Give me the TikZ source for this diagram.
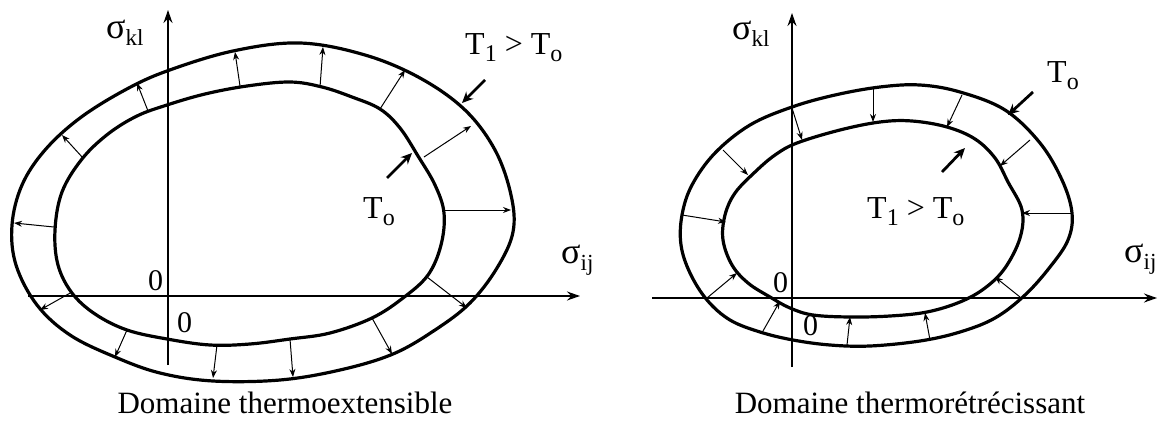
\documentclass[tikz,border=0pt]{standalone}
\usepackage{fontspec}
\setmainfont{Liberation Serif}
\usetikzlibrary{arrows.meta}
\newcommand{\sigl}[1]{{\fontsize{36}{36}\selectfont σ}\raisebox{-7pt}{\fontsize{23}{23}\selectfont #1}}
\newcommand{\tsub}[1]{\raisebox{-7pt}{\fontsize{24}{24}\selectfont #1}}
\begin{document}
\begin{tikzpicture}[x=1pt,y=-1pt,
  curve/.style={line width=3.2pt, line join=round},
  axis/.style={line width=1.3pt, -{Stealth[length=13pt,width=9pt]}},
  tharrow/.style={line width=1pt, -{Stealth[length=8pt,width=6pt]}},
  pointer/.style={line width=2.8pt, -{Stealth[length=11pt,width=10pt]}},
  lab/.style={anchor=base west, inner sep=0pt, font=\fontsize{32}{32}\selectfont},
  zero/.style={anchor=base west, inner sep=0pt, font=\fontsize{30}{30}\selectfont},
  captxt/.style={anchor=base, inner sep=0pt, font=\fontsize{31}{31}\selectfont}]
\useasboundingbox (0,0) rectangle (1166,420);

% ---------------- left diagram ----------------
\coordinate (LVb) at (168,365); \coordinate (LVt) at (168,10);
\coordinate (LHl) at (28,296);  \coordinate (LHr) at (580,296);
\draw[axis] (LVb) -- (LVt);
\draw[axis] (LHl) -- (LHr);

\draw[curve] plot[smooth cycle, tension=0.6] coordinates {
 (300,43) (365,55) (420,78) (465,110) (495,150) (511,195) (513,232)
 (497,268) (470,303) (435,330) (393,354) (340,370) (280,380) (213,381)
 (160,373) (115,357) (70,335) (37,305) (16,265) (12,225) (22,185) (45,150)
 (80,118) (125,90) (167,71) (233,51)};
\draw[curve] plot[smooth cycle, tension=0.6] coordinates {
 (167,105) (205,94) (247,86) (290,82) (322,87) (352,97) (380,109) (400,128)
 (418,156) (435,185) (444,213) (441,245) (428,275) (403,298) (372,318)
 (330,333) (290,339) (250,344) (210,345) (167,339) (127,330) (95,314)
 (72,293) (58,265) (55,230) (62,192) (82,159) (108,134) (137,116)};

\foreach \i/\xa/\ya/\xb/\yb in {
 1/54/227/14/223, 2/72/292/40/310, 3/127/330/115/357, 4/217/345/213/378,
 5/290/339/293/377, 6/372/318/392/354, 7/427/277/467/308, 8/444/210/511/210,
 9/424/157/471/126, 10/380/109/405/70, 11/320/87/323/47, 12/240/86/235/52,
 13/148/111/137/83, 14/83/158/62/135}{
  \coordinate (la\i) at (\xa,\ya); \coordinate (lb\i) at (\xb,\yb);
  \draw[tharrow] (la\i) -- (lb\i);
}

\coordinate (LP1s) at (485,80);  \coordinate (LP1e) at (462,103);
\coordinate (LP2s) at (387,178); \coordinate (LP2e) at (412,153);
\draw[pointer] (LP1s) -- (LP1e);
\draw[pointer] (LP2s) -- (LP2e);

\node[lab] (Lskl) at (106,38) {\sigl{kl}};
\node[lab] (Lsij) at (561,263) {\sigl{ij}};
\node[lab] (LT1) at (465,55) {T\tsub{1} > T\tsub{o}};
\node[lab] (LT0) at (363,218) {T\tsub{o}};
\node[zero] (L01) at (148,290) {0};
\node[zero] (L02) at (177,332) {0};
\node[captxt] (Lcap) at (285,413) {Domaine thermoextensible};

% ---------------- right diagram ----------------
\coordinate (RVb) at (792,367); \coordinate (RVt) at (792,13);
\coordinate (RHl) at (652,298); \coordinate (RHr) at (1157,298);
\draw[axis] (RVb) -- (RVt);
\draw[axis] (RHl) -- (RHr);

\draw[curve] plot[smooth cycle, tension=0.6] coordinates {
 (792,107) (835,95) (880,87) (920,85) (960,92) (1005,110) (1040,143)
 (1062,180) (1072,213) (1068,240) (1050,267) (1025,295) (995,318) (960,332)
 (920,341) (870,346) (830,345) (793,340) (760,332) (730,320) (707,300)
 (690,273) (681,245) (682,215) (692,185) (715,153) (750,125)};
\draw[curve] plot[smooth cycle, tension=0.6] coordinates {
 (797,143) (840,130) (880,122) (912,121) (947,127) (975,139) (995,158)
 (1008,182) (1022,210) (1020,238) (1005,268) (985,288) (960,302) (927,312)
 (890,316) (850,317) (813,315) (790,308) (770,297) (748,283) (732,265)
 (723,240) (725,215) (735,193) (755,172) (775,155)};

\foreach \i/\xa/\ya/\xb/\yb in {
 1/792/108/802/140, 2/873/89/873/122, 3/723/150/748/175, 4/682/215/726/222,
 5/707/298/737/273, 6/763/331/780/301, 7/847/345/850/317, 8/930/340/925/313,
 9/1020/297/995/277, 10/1071/213/1022/213, 11/1030/140/1000/166,
 12/962/95/947/127}{
  \coordinate (ra\i) at (\xa,\ya); \coordinate (rb\i) at (\xb,\yb);
  \draw[tharrow] (ra\i) -- (rb\i);
}

\coordinate (RP1s) at (1033,92);  \coordinate (RP1e) at (1008,115);
\coordinate (RP2s) at (942,172);  \coordinate (RP2e) at (965,148);
\draw[pointer] (RP1s) -- (RP1e);
\draw[pointer] (RP2s) -- (RP2e);

\node[lab] (Rskl) at (732,40) {\sigl{kl}};
\node[lab] (Rsij) at (1124,262) {\sigl{ij}};
\node[lab] (RT0) at (1047,82) {T\tsub{o}};
\node[lab] (RT1) at (867,218) {T\tsub{1} > T\tsub{o}};
\node[zero] (R01) at (773,292) {0};
\node[zero] (R02) at (803,335) {0};
\node[captxt] (Rcap) at (910,413) {Domaine thermorétrécissant};
\end{tikzpicture}
\end{document}
